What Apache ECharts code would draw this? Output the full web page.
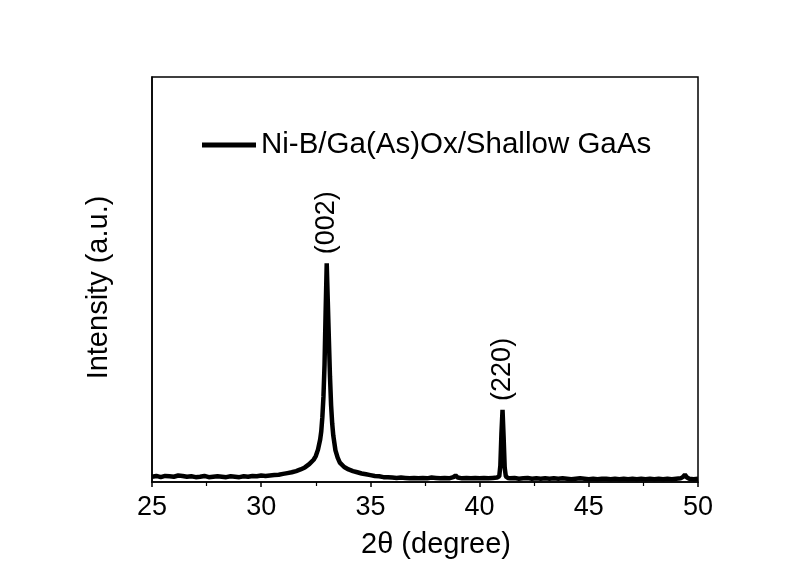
<!DOCTYPE html>
<html>
<head>
<meta charset="utf-8">
<script src="https://cdn.jsdelivr.net/npm/echarts@6/dist/echarts.min.js"></script>
<style>
  html, body { margin: 0; padding: 0; background: #fff; }
  #presentation { width: 795px; height: 565px; }
</style>
</head>
<body>
<div id="presentation"></div>
<script>
// 2theta positions (degree) and intensity (a.u.)
var twoTheta = [
  25.0, 25.2, 25.4, 25.6, 25.8, 26.0, 26.2, 26.4, 26.6, 26.8,
  27.0, 27.2, 27.4, 27.6, 27.8, 28.0, 28.2, 28.4, 28.6, 28.8,
  29.0, 29.2, 29.4, 29.6, 29.8, 30.0, 30.2, 30.4, 30.6, 30.8,
  31.0, 31.2, 31.4, 31.6, 31.8, 32.0, 32.2, 32.4, 32.5, 32.6,
  32.7, 32.75, 32.8, 32.85, 32.9, 32.95, 33.0, 33.05, 33.1, 33.15,
  33.2, 33.25, 33.3, 33.4, 33.5, 33.6, 33.8, 34.0, 34.2, 34.4,
  34.6, 34.8, 35.0, 35.2, 35.4, 35.6, 35.8, 36.0, 36.2, 36.4,
  36.6, 36.8, 37.0, 37.2, 37.4, 37.6, 37.8, 38.0, 38.2, 38.4,
  38.6, 38.8, 38.9, 39.0, 39.2, 39.4, 39.6, 39.8, 40.0, 40.2,
  40.4, 40.6, 40.8, 40.9, 40.95, 41.0, 41.05, 41.1, 41.15, 41.2,
  41.3, 41.4, 41.6, 41.8, 42.0, 42.2, 42.4, 42.6, 42.8, 43.0,
  43.2, 43.4, 43.6, 43.8, 44.0, 44.2, 44.4, 44.6, 44.8, 45.0,
  45.2, 45.4, 45.6, 45.8, 46.0, 46.2, 46.4, 46.6, 46.8, 47.0,
  47.2, 47.4, 47.6, 47.8, 48.0, 48.2, 48.4, 48.6, 48.8, 49.0,
  49.2, 49.3, 49.4, 49.5, 49.6, 49.8, 50.0
];
var intensity = [
  13, 15, 12, 15, 14, 13, 16, 15, 13, 14,
  12, 13, 15, 12, 13, 14, 13, 12, 14, 13,
  12, 14, 13, 15, 14, 16, 15, 16, 17, 18,
  20, 22, 24, 27, 31, 36, 44, 55, 64, 80,
  105, 125, 160, 210, 290, 420, 540, 445, 350, 260,
  190, 145, 115, 78, 60, 48, 37, 31, 27, 24,
  21, 19, 17, 15, 14, 12, 12, 11, 10, 11,
  10, 9, 10, 9, 10, 9, 11, 10, 9, 10,
  9, 12, 16, 11, 9, 10, 9, 10, 9, 10,
  9, 10, 11, 14, 40, 120, 178, 110, 35, 14,
  10, 9, 10, 8, 9, 10, 8, 9, 8, 9,
  8, 9, 8, 9, 8, 7, 8, 9, 8, 7,
  8, 7, 8, 8, 7, 8, 7, 8, 7, 8,
  7, 8, 7, 8, 7, 8, 7, 8, 7, 8,
  9, 12, 18, 11, 8, 7, 8
];
var xTicks = [25, 30, 35, 40, 45, 50];
var peakLabels = ['(002)', '(220)'];
var peakPos = [33.0, 41.05];
var peakTop = [540, 178];

var font = 'Arial, "Liberation Sans", sans-serif';
var seriesData = [];
for (var i = 0; i < twoTheta.length; i++) {
  seriesData.push([twoTheta[i], intensity[i]]);
}
var marks = [];
for (var j = 0; j < peakLabels.length; j++) {
  marks.push({ coord: [peakPos[j], peakTop[j]], value: peakLabels[j] });
}

var mychart = echarts.init(document.getElementById('presentation'));
var option = {
  animation: false,
  backgroundColor: '#fff',
  grid: {
    left: 152, right: 97, top: 77, bottom: 83,
    show: true, borderColor: '#000', borderWidth: 1.5
  },
  legend: {
    left: 197, top: 125,
    icon: 'rect', itemWidth: 54, itemHeight: 5, itemGap: 10,
    textStyle: { fontFamily: font, fontSize: 29.5, color: '#000' },
    data: ['Ni-B/Ga(As)Ox/Shallow GaAs']
  },
  xAxis: {
    type: 'value',
    min: xTicks[0], max: xTicks[xTicks.length - 1], interval: 5,
    name: '2\u03b8 (degree)',
    nameLocation: 'middle', nameGap: 48,
    nameTextStyle: { fontFamily: font, fontSize: 29, color: '#000', padding: [0, 0, 0, 22] },
    axisLine: { lineStyle: { color: '#000', width: 1.5 } },
    axisTick: { length: 5, lineStyle: { color: '#000', width: 1.5 } },
    minorTick: { show: true, splitNumber: 2, length: 4, lineStyle: { color: '#000', width: 1.2 } },
    axisLabel: { fontFamily: font, fontSize: 27, color: '#000', margin: 12 },
    splitLine: { show: false }
  },
  yAxis: {
    type: 'value', min: 0, max: 1000,
    name: 'Intensity (a.u.)',
    nameLocation: 'middle', nameGap: 39,
    nameTextStyle: { fontFamily: font, fontSize: 29, color: '#000', padding: [0, 16, 0, 0] },
    axisLine: { show: true, lineStyle: { color: '#000', width: 1.5 } },
    axisTick: { show: false },
    axisLabel: { show: false },
    splitLine: { show: false }
  },
  series: [{
    name: 'Ni-B/Ga(As)Ox/Shallow GaAs',
    type: 'line',
    data: seriesData,
    showSymbol: false,
    color: '#000',
    lineStyle: { color: '#000', width: 4.5 },
    markPoint: {
      symbol: 'circle', symbolSize: 0,
      label: {
        show: true, position: [0, -9], rotate: 90,
        align: 'left', verticalAlign: 'middle',
        fontFamily: font, fontSize: 27, color: '#000',
        formatter: function (p) { return p.value; }
      },
      data: marks
    }
  }]
};
mychart.setOption(option);
</script>
</body>
</html>
